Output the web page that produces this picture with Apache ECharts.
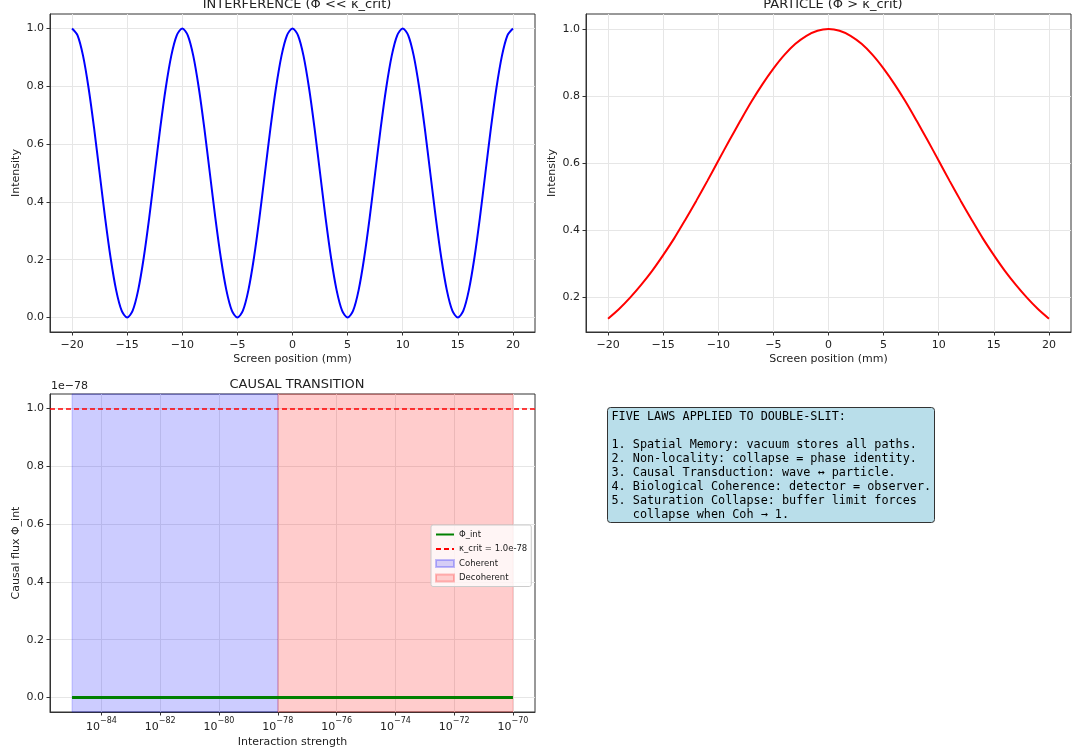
<!DOCTYPE html>
<html>
<head>
<meta charset="utf-8">
<script src="https://cdn.jsdelivr.net/npm/echarts@6/dist/echarts.min.js"></script>
<style>
  html, body { margin: 0; padding: 0; background: #fff; }
  #chart { width: 1073px; height: 755px; }
</style>
</head>
<body>
<div id="chart"></div>
<script>
// interference panel: screen position (mm) every 0.5 mm and intensity
const waveX = [-20, -19.5, -19, -18.5, -18, -17.5, -17, -16.5, -16, -15.5, -15, -14.5, -14, -13.5, -13, -12.5,
  -12, -11.5, -11, -10.5, -10, -9.5, -9, -8.5, -8, -7.5, -7, -6.5, -6, -5.5, -5, -4.5, -4, -3.5, -3, -2.5,
  -2, -1.5, -1, -0.5, 0, 0.5, 1, 1.5, 2, 2.5, 3, 3.5, 4, 4.5, 5, 5.5, 6, 6.5, 7, 7.5, 8, 8.5, 9, 9.5,
  10, 10.5, 11, 11.5, 12, 12.5, 13, 13.5, 14, 14.5, 15, 15.5, 16, 16.5, 17, 17.5, 18, 18.5, 19, 19.5, 20];
const interference = [
  1.0, 0.976, 0.905, 0.794, 0.655, 0.5, 0.345, 0.206, 0.095, 0.024, 0.0, 0.024, 0.095, 0.206, 0.345, 0.5, 0.655, 0.794, 0.905, 0.976,
  1.0, 0.976, 0.905, 0.794, 0.655, 0.5, 0.345, 0.206, 0.095, 0.024, 0.0, 0.024, 0.095, 0.206, 0.345, 0.5, 0.655, 0.794, 0.905, 0.976,
  1.0, 0.976, 0.905, 0.794, 0.655, 0.5, 0.345, 0.206, 0.095, 0.024, 0.0, 0.024, 0.095, 0.206, 0.345, 0.5, 0.655, 0.794, 0.905, 0.976,
  1.0, 0.976, 0.905, 0.794, 0.655, 0.5, 0.345, 0.206, 0.095, 0.024, 0.0, 0.024, 0.095, 0.206, 0.345, 0.5, 0.655, 0.794, 0.905, 0.976,
  1.0];

// particle panel: screen position (mm) and intensity
const particleX = [-20, -19, -18, -17, -16, -15, -14, -13, -12, -11, -10, -9, -8, -7, -6, -5, -4, -3, -2, -1,
  0, 1, 2, 3, 4, 5, 6, 7, 8, 9, 10, 11, 12, 13, 14, 15, 16, 17, 18, 19, 20];
const particle = [0.135, 0.164, 0.198, 0.236, 0.278, 0.325, 0.375, 0.430, 0.487, 0.546,
  0.607, 0.667, 0.726, 0.783, 0.835, 0.882, 0.923, 0.956, 0.980, 0.995,
  1.0, 0.995, 0.980, 0.956, 0.923, 0.882, 0.835, 0.783, 0.726, 0.667,
  0.607, 0.546, 0.487, 0.430, 0.375, 0.325, 0.278, 0.236, 0.198, 0.164, 0.135];

// causal transition panel
const strength = [1e-85, 1e-84, 1e-83, 1e-82, 1e-81, 1e-80, 1e-79, 1e-78,
  1e-77, 1e-76, 1e-75, 1e-74, 1e-73, 1e-72, 1e-71, 1e-70];
const phiInt = [0, 0, 0, 0, 0, 0, 0, 0, 0, 0, 0, 0, 0, 0, 0, 0];
const kappaCrit = 1e-78;
const coherentRange = [1e-85, 1e-78];
const decoherentRange = [1e-78, 1e-70];
const yScale = 1e-78;

// tick labels
const mmTicks = [-20, -15, -10, -5, 0, 5, 10, 15, 20];
const intensityTicks = [0, 0.2, 0.4, 0.6, 0.8, 1.0];
const particleTicks = [0.2, 0.4, 0.6, 0.8, 1.0];
const logTicks = [-84, -82, -80, -78, -76, -74, -72, -70];

const lawsText = [
  'FIVE LAWS APPLIED TO DOUBLE-SLIT:',
  '',
  '1. Spatial Memory: vacuum stores all paths.',
  '2. Non-locality: collapse = phase identity.',
  '3. Causal Transduction: wave \u2194 particle.',
  '4. Biological Coherence: detector = observer.',
  '5. Saturation Collapse: buffer limit forces',
  '   collapse when Coh \u2192 1.'
];

const FONT = 'DejaVu Sans';
const TXT = '#222';
const GRID_LINE = '#e6e6e6';
const FRAME = '#333';

const minus = s => String(s).replace('-', '\u2212');
const onStep = (v, step) => Math.abs(v / step - Math.round(v / step)) < 1e-6;

const xAxisMm = gridIndex => ({
  type: 'value', gridIndex, min: -22, max: 22, minInterval: 5, maxInterval: 5,
  name: 'Screen position (mm)', nameLocation: 'middle', nameGap: 22,
  nameTextStyle: { fontFamily: FONT, fontSize: 11, color: TXT },
  axisLine: { show: true, onZero: false, lineStyle: { color: FRAME } },
  axisTick: { length: 3.5, customValues: mmTicks, lineStyle: { color: FRAME } },
  axisLabel: { fontFamily: FONT, fontSize: 11, color: TXT, margin: 8, customValues: mmTicks,
    formatter: v => onStep(v, 5) ? minus(Math.round(v)) : '' },
  splitLine: { show: true, lineStyle: { color: GRID_LINE } }
});

const yAxisVal = (gridIndex, min, max, name, ticks) => ({
  type: 'value', gridIndex, min, max, minInterval: 0.2, maxInterval: 0.2,
  name, nameLocation: 'middle', nameGap: 28,
  nameTextStyle: { fontFamily: FONT, fontSize: 11, color: TXT },
  axisLine: { show: true, onZero: false, lineStyle: { color: FRAME } },
  axisTick: { length: 3.5, customValues: ticks, lineStyle: { color: FRAME } },
  axisLabel: { fontFamily: FONT, fontSize: 11, color: TXT, margin: 6, customValues: ticks,
    formatter: v => onStep(v, 0.2) ? v.toFixed(1) : '' },
  splitLine: { show: true, lineStyle: { color: GRID_LINE } }
});

const gridBox = (left, top) => ({
  left, top, width: 485, height: 318, show: true,
  borderColor: FRAME, borderWidth: 1, backgroundColor: 'transparent'
});

const log10 = v => Math.log10(v);
const noSymbol = { color: 'rgba(0,0,0,0)', borderWidth: 0, opacity: 0 };
const chart = echarts.init(document.getElementById('chart'));

const option = {
  animation: false,
  backgroundColor: '#fff',
  textStyle: { fontFamily: FONT },
  title: [
    { text: 'INTERFERENCE (\u03a6 << \u03ba_crit)', left: 292, top: -7, textAlign: 'center',
      textStyle: { fontFamily: FONT, fontSize: 13, fontWeight: 'normal', color: TXT } },
    { text: 'PARTICLE (\u03a6 > \u03ba_crit)', left: 828, top: -7, textAlign: 'center',
      textStyle: { fontFamily: FONT, fontSize: 13, fontWeight: 'normal', color: TXT } },
    { text: 'CAUSAL TRANSITION', left: 292, top: 373, textAlign: 'center',
      textStyle: { fontFamily: FONT, fontSize: 13, fontWeight: 'normal', color: TXT } }
  ],
  grid: [gridBox(50, 14), gridBox(586, 14), gridBox(50, 394)],
  xAxis: [
    xAxisMm(0),
    xAxisMm(1),
    {
      type: 'value', gridIndex: 2, min: -85.75, max: -69.25, minInterval: 2, maxInterval: 2,
      name: 'Interaction strength', nameLocation: 'middle', nameGap: 25,
      nameTextStyle: { fontFamily: FONT, fontSize: 11, color: TXT },
      axisLine: { show: true, onZero: false, lineStyle: { color: FRAME } },
      axisTick: { length: 3.5, customValues: logTicks, lineStyle: { color: FRAME } },
      axisLabel: {
        fontFamily: FONT, color: TXT, margin: 5, customValues: logTicks,
        formatter: v => onStep(v, 2) ? `{b|10}{s|\u2212${Math.round(-v)}}` : '',
        rich: {
          b: { fontFamily: FONT, fontSize: 11, color: TXT, lineHeight: 16, verticalAlign: 'bottom' },
          s: { fontFamily: FONT, fontSize: 8, color: TXT, lineHeight: 10, verticalAlign: 'top' }
        }
      },
      splitLine: { show: true, lineStyle: { color: GRID_LINE } }
    }
  ],
  yAxis: [
    yAxisVal(0, -0.05, 1.05, 'Intensity', intensityTicks),
    yAxisVal(1, 0.0955, 1.045, 'Intensity', particleTicks),
    yAxisVal(2, -0.05, 1.05, 'Causal flux \u03a6_int', intensityTicks)
  ],
  legend: {
    orient: 'vertical', left: 431, top: 525,
    itemWidth: 18, itemHeight: 7, itemGap: 5.5,
    padding: [5, 4, 4, 4],
    backgroundColor: 'rgba(255,255,255,0.8)', borderColor: '#ccc', borderWidth: 1, borderRadius: 2,
    textStyle: { fontFamily: FONT, fontSize: 8.5, color: TXT },
    data: [
      { name: '\u03a6_int', itemStyle: noSymbol },
      { name: '\u03ba_crit = 1.0e-78', itemStyle: noSymbol },
      { name: 'Coherent', icon: 'rect' },
      { name: 'Decoherent', icon: 'rect' }
    ]
  },
  series: [
    {
      type: 'line', xAxisIndex: 0, yAxisIndex: 0, smooth: 0.3, symbol: 'none',
      lineStyle: { color: '#0000ff', width: 2 },
      data: waveX.map((x, i) => [x, interference[i]])
    },
    {
      type: 'line', xAxisIndex: 1, yAxisIndex: 1, smooth: 0.3, symbol: 'none',
      lineStyle: { color: '#ff0000', width: 2 },
      data: particleX.map((x, i) => [x, particle[i]])
    },
    {
      name: 'Coherent', type: 'scatter', xAxisIndex: 2, yAxisIndex: 2, symbol: 'rect', data: [],
      itemStyle: { color: 'rgba(0,0,255,0.2)', borderColor: 'rgba(0,0,255,0.3)', borderWidth: 1 },
      markArea: {
        silent: true,
        itemStyle: { color: 'rgba(0,0,255,0.2)', borderColor: 'rgba(0,0,255,0.2)', borderWidth: 1 },
        data: [[{ xAxis: log10(coherentRange[0]) }, { xAxis: log10(coherentRange[1]) }]]
      }
    },
    {
      name: 'Decoherent', type: 'scatter', xAxisIndex: 2, yAxisIndex: 2, symbol: 'rect', data: [],
      itemStyle: { color: 'rgba(255,0,0,0.2)', borderColor: 'rgba(255,0,0,0.3)', borderWidth: 1 },
      markArea: {
        silent: true,
        itemStyle: { color: 'rgba(255,0,0,0.2)', borderColor: 'rgba(255,0,0,0.2)', borderWidth: 1 },
        data: [[{ xAxis: log10(decoherentRange[0]) }, { xAxis: log10(decoherentRange[1]) }]]
      }
    },
    {
      name: '\u03a6_int', type: 'line', xAxisIndex: 2, yAxisIndex: 2, symbol: 'none', z: 5,
      lineStyle: { color: '#008000', width: 3 }, itemStyle: { color: '#008000' },
      data: strength.map((s, i) => [log10(s), phiInt[i] / yScale])
    },
    {
      name: '\u03ba_crit = 1.0e-78', type: 'line', xAxisIndex: 2, yAxisIndex: 2, symbol: 'none', data: [],
      lineStyle: { color: '#ff0000', width: 1.5, type: [5, 3] }, itemStyle: { color: '#ff0000' },
      markLine: {
        silent: true, symbol: 'none', label: { show: false },
        lineStyle: { color: '#ff0000', width: 1.5, type: [5, 3] },
        data: [{ yAxis: kappaCrit / yScale }]
      }
    }
  ],
  graphic: [
    { type: 'text', left: 51, top: 381,
      style: { text: '1e\u221278', fontFamily: FONT, fontSize: 11, fill: TXT } },
    {
      type: 'group', left: 607, top: 407,
      children: [
        { type: 'rect', shape: { x: 0, y: 0, width: 327, height: 115, r: 3 },
          style: { fill: 'rgba(173,216,230,0.85)', stroke: '#333', lineWidth: 1 } },
        { type: 'text', x: 4, y: 2,
          style: { text: lawsText.join('\n'), fontFamily: 'DejaVu Sans Mono', fontSize: 11.8,
            lineHeight: 14, fill: '#000' } }
      ]
    }
  ]
};

chart.setOption(option);
</script>
</body>
</html>
